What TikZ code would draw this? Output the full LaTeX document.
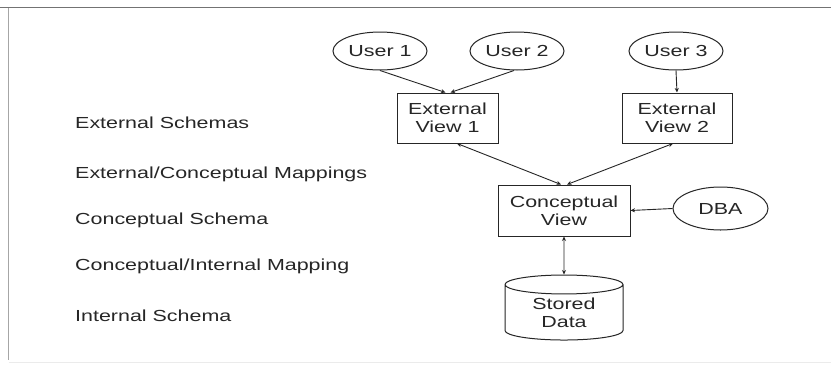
\documentclass[tikz,border=0pt]{standalone}
\usepackage{fontspec}
\setmainfont{Liberation Sans}[FakeStretch=1.34]
\usetikzlibrary{shapes.geometric,arrows.meta}
\tikzset{
  lbl/.style={anchor=base west,text=black!85,font=\fontsize{16}{18}\selectfont,inner sep=0pt},
  usr/.style={ellipse,draw=black!85,line width=1pt,minimum width=94pt,minimum height=38pt,inner sep=0pt,text=black!85,font=\fontsize{16}{18}\selectfont},
  viewbox/.style={rectangle,draw=black!85,line width=1pt,inner sep=0pt,align=center,text=black!85,font=\fontsize{16}{18}\selectfont},
  conn/.style={draw=black!85,line width=0.9pt,-{Stealth[length=4.5pt,width=4pt]}},
  bconn/.style={draw=black!85,line width=0.9pt,{Stealth[length=4.5pt,width=4pt]}-{Stealth[length=4.5pt,width=4pt]}}
}
\begin{document}
\begin{tikzpicture}[x=1pt,y=-1pt]
\useasboundingbox (0,0) rectangle (831,365);
\fill[white] (0,0) rectangle (831,365);
% frame lines
\draw[black!55,line width=1.5pt] (0,7.5) -- (831,7.5);
\draw[black!35,line width=1.2pt] (8.5,8) -- (8.5,360);
\draw[black!8,line width=1pt] (8.5,362.5) -- (831,362.5);
% left labels
\node[lbl] (l1) at (75,128) {External Schemas};
\node[lbl] (l2) at (75,178) {External/Conceptual Mappings};
\node[lbl] (l3) at (75,224) {Conceptual Schema};
\node[lbl] (l4) at (75,270) {Conceptual/Internal Mapping};
\node[lbl] (l5) at (75,321) {Internal Schema};
% users
\node[usr] (u1) at (380,51) {User 1};
\node[usr] (u2) at (517,51) {User 2};
\node[usr] (u3) at (676,51) {User 3};
% views
\node[viewbox,minimum width=101pt,minimum height=50pt] (ev1) at (447.5,118) {External\\View 1};
\node[viewbox,minimum width=110pt,minimum height=50pt] (ev2) at (677,118) {External\\View 2};
\node[viewbox,minimum width=132pt,minimum height=51pt] (cv) at (564,210.5) {Conceptual\\View};
\node[usr,minimum width=95pt,minimum height=43pt] (dba) at (720.5,208.5) {DBA};
\node[cylinder,shape border rotate=90,aspect=0.3,draw=black!85,line width=1pt,minimum width=118pt,minimum height=65pt,inner sep=0pt,align=center,text=black!85,font=\fontsize{16}{18}\selectfont] (sd) at (564,312.5) {Stored\\Data};
% connectors
\draw[conn] (u1.south) -- ([xshift=-2pt]ev1.north);
\draw[conn] ([xshift=-3pt]u2.south) -- ([xshift=3pt]ev1.north);
\draw[conn] (u3.south) -- (ev2.north);
\draw[bconn] ([xshift=9.5pt]ev1.south) -- ([xshift=-3pt]cv.north);
\draw[bconn] ([xshift=-4pt]ev2.south) -- ([xshift=3pt]cv.north);
\draw[conn] (dba.west) -- (cv.east);
\draw[bconn] (cv.south) -- (sd.north);
\end{tikzpicture}
\end{document}
